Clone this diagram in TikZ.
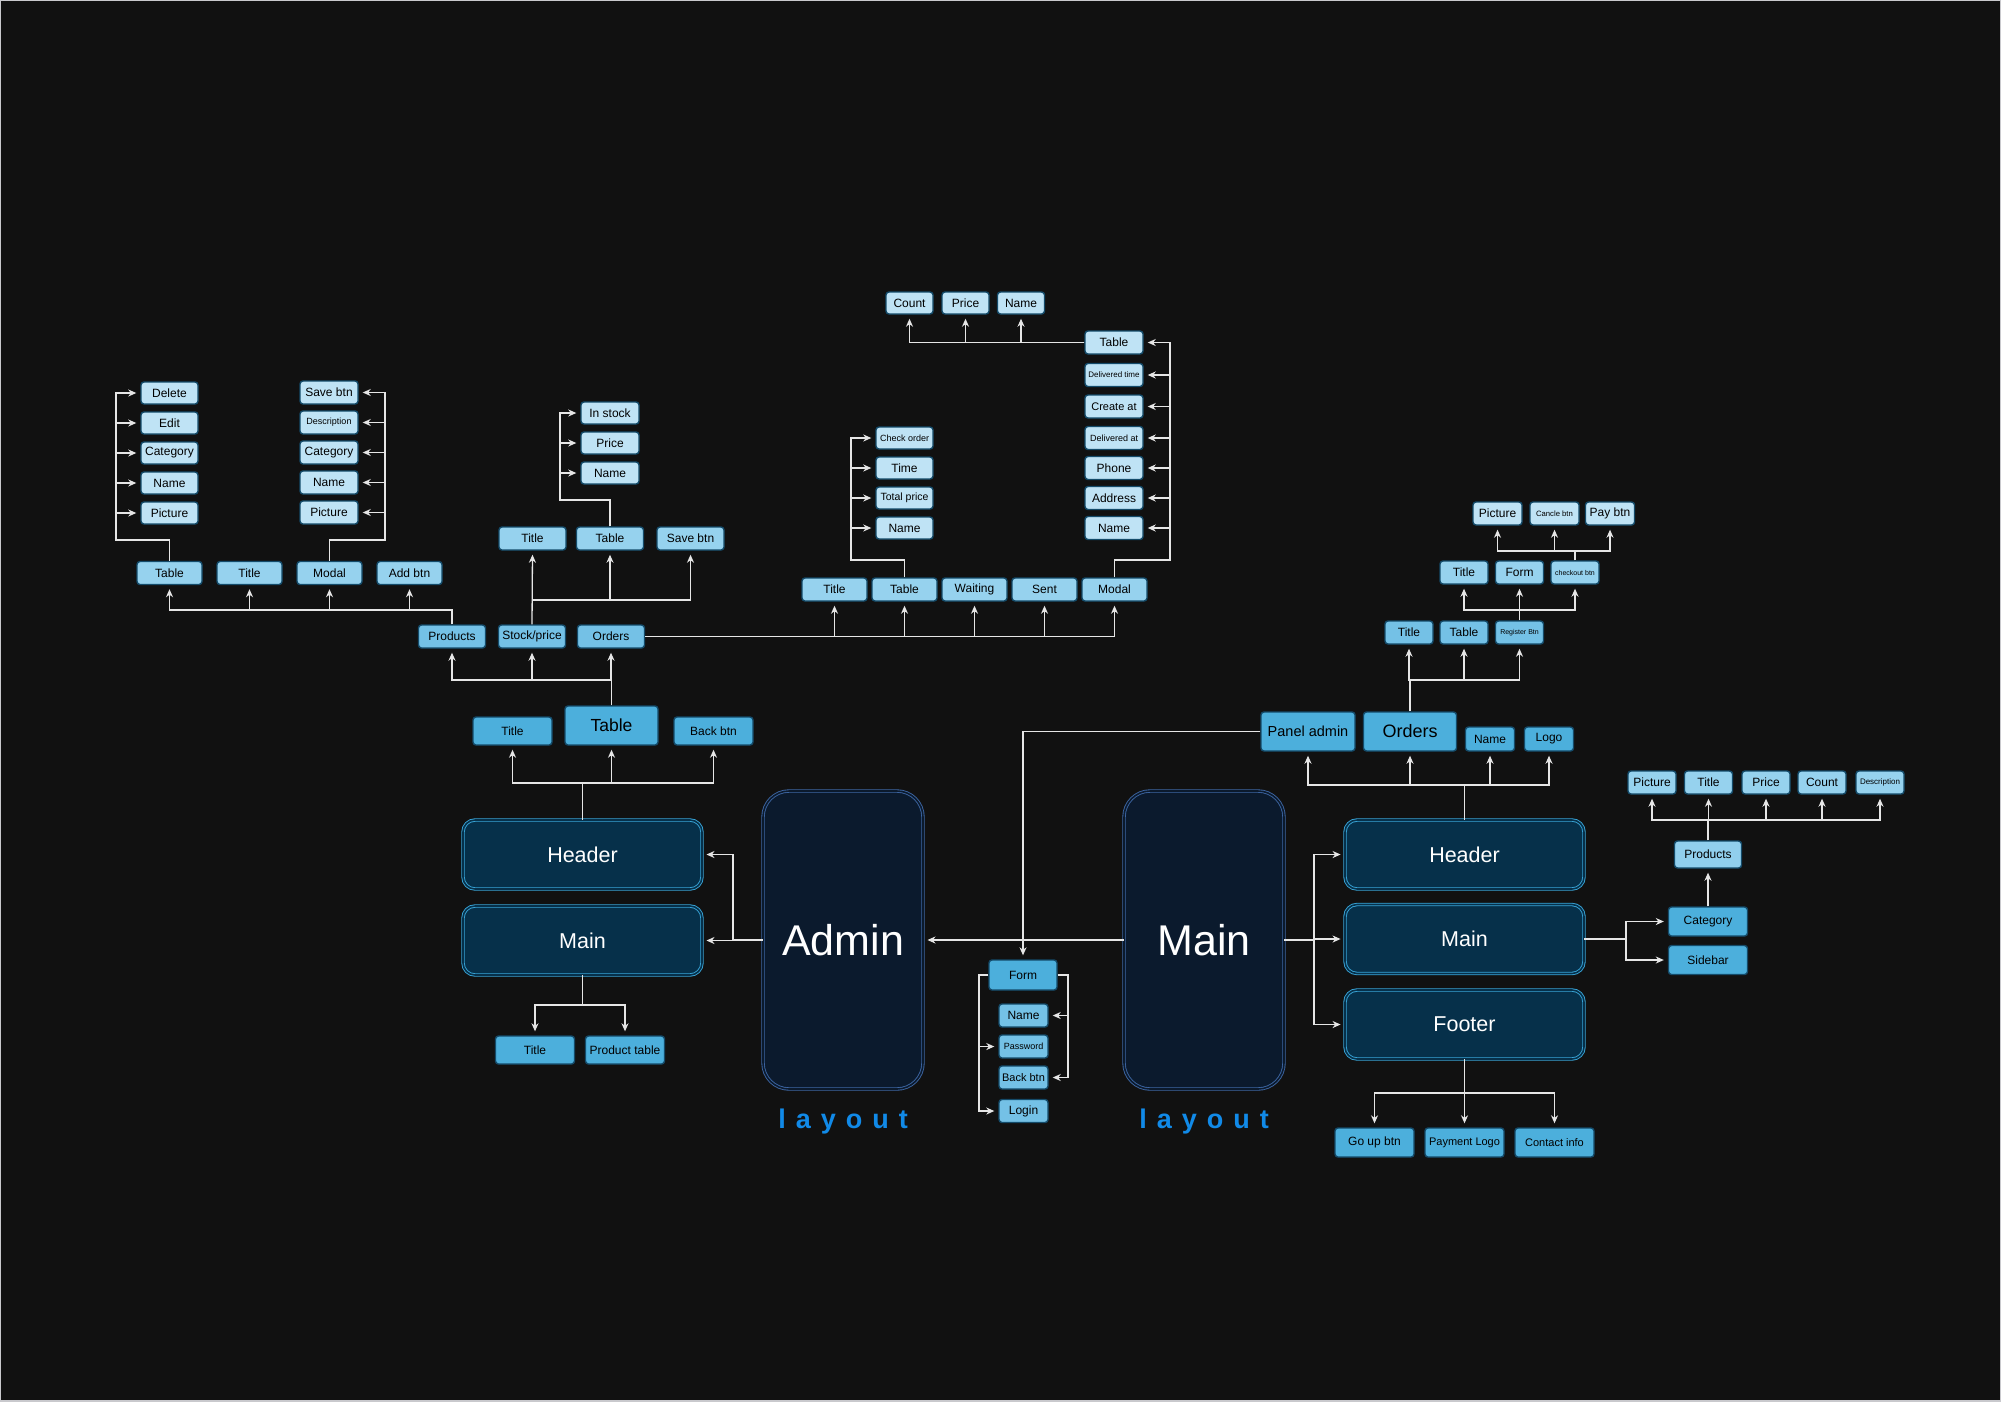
\documentclass[tikz,border=0pt]{standalone}
\usepackage{fontspec}
\setmainfont{Liberation Sans}
\usepackage{tikz}
\usetikzlibrary{arrows.meta, positioning}

\newcommand{\fsz}[1]{\fontsize{#1}{#1}\selectfont}

\definecolor{bgdark}{HTML}{111111}
\definecolor{frameline}{HTML}{C9C9CD}
\definecolor{leafblue}{HTML}{BFE3F5}
\definecolor{midblue}{HTML}{96D2EE}
\definecolor{lvlblue}{HTML}{74C1E6}
\definecolor{topblue}{HTML}{4CAFDC}
\definecolor{boxline}{HTML}{144B6A}
\definecolor{secfill}{HTML}{06304A}
\definecolor{secline}{HTML}{38A4D7}
\definecolor{pagefill}{HTML}{0B1A2D}
\definecolor{pageline}{HTML}{3D66A3}
\definecolor{wire}{HTML}{E6E6E6}
\definecolor{layblue}{HTML}{118AE8}

\tikzstyle{leafbox} = [rectangle, rounded corners=3pt, minimum width=57pt, minimum height=22pt, inner sep=0pt, text centered, draw=boxline, line width=1.4pt, fill=leafblue, text=black, font=\fsz{12}]
\tikzstyle{midbox} = [leafbox, fill=midblue, minimum width=65pt, minimum height=23pt]
\tikzstyle{lvlbox} = [leafbox, fill=lvlblue, minimum width=67pt, minimum height=23pt]
\tikzstyle{topbox} = [leafbox, fill=topblue, minimum width=79pt, minimum height=28pt]
\tikzstyle{sectionbox} = [rectangle, rounded corners=12pt, minimum width=239pt, minimum height=69pt, inner sep=0pt, draw=secline, double=secfill, double distance=1.6pt, line width=0.9pt, fill=secfill, text=white, font=\fsz{21.5}]
\tikzstyle{pagebox} = [rectangle, rounded corners=26pt, minimum width=160pt, minimum height=298pt, inner sep=0pt, draw=pageline, double=pagefill, double distance=1.6pt, line width=0.9pt, fill=pagefill, text=white, font=\fsz{43}]
\tikzstyle{layouttext} = [text=layblue, font=\bfseries\fsz{27}, inner sep=0pt]
\tikzstyle{arrow} = [line width=1.3pt, draw=wire, ->, >={Stealth[length=8pt,width=7pt,inset=2.5pt]}, shorten >=4pt]

\newcommand{\spacedlayout}{l\kern10pt a\kern10pt y\kern10pt o\kern10pt u\kern10pt t}

\begin{document}
\begin{tikzpicture}[x=1pt, y=-1pt]

    \useasboundingbox (0,0) rectangle (2001,1401);
    \fill [bgdark] (0,0) rectangle (2001,1401);
    \draw [frameline, line width=2pt] (0,0) rectangle (2001,1401);

    % admin layout
    \node (admin) [pagebox] at (843,940) {Admin};
    \node (alayout) [layouttext] at (843,1121) {\spacedlayout};
    \node (lheader) [sectionbox] at (582.5,854.5) {Header};
    \node (lmain) [sectionbox] at (582.5,940.5) {Main};
    \node (htitle) [topbox] at (512.5,731) {Title};
    \node (htable) [topbox, minimum width=93pt, minimum height=39pt, font=\fsz{17.5}] at (611.5,725.5) {Table};
    \node (hback) [topbox] at (713.5,731) {Back btn};
    \node (mtitle) [topbox] at (535,1050) {Title};
    \node (mprod) [topbox] at (625,1050) {Product table};

    \node (products) [lvlbox] at (452,636.5) {Products};
    \node (stock) [lvlbox] at (532,636.5) {Stock/price};
    \node (orders) [lvlbox] at (611,636.5) {Orders};

    \node (ptable) [midbox] at (169.5,573) {Table};
    \node (ptitle) [midbox] at (249.5,573) {Title};
    \node (pmodal) [midbox] at (329.5,573) {Modal};
    \node (padd) [midbox] at (409.5,573) {Add btn};

    \node (t1) [leafbox] at (169.5,393) {Delete};
    \node (t2) [leafbox, below of=t1, node distance=30pt] {Edit};
    \node (t3) [leafbox, below of=t2, node distance=30pt] {Category};
    \node (t4) [leafbox, below of=t3, node distance=30pt] {Name};
    \node (t5) [leafbox, below of=t4, node distance=30pt] {Picture};

    \node (m1) [leafbox, minimum width=58pt, minimum height=23pt] at (329,392.5) {Save btn};
    \node (m2) [leafbox, minimum width=58pt, minimum height=23pt, font=\fsz{9}, below of=m1, node distance=30pt] {Description};
    \node (m3) [leafbox, minimum width=58pt, minimum height=23pt, below of=m2, node distance=30pt] {Category};
    \node (m4) [leafbox, minimum width=58pt, minimum height=23pt, below of=m3, node distance=30pt] {Name};
    \node (m5) [leafbox, minimum width=58pt, minimum height=23pt, below of=m4, node distance=30pt] {Picture};

    \node (stitle) [midbox, minimum width=67pt] at (532.5,538.5) {Title};
    \node (stable) [midbox, minimum width=67pt] at (610,538.5) {Table};
    \node (ssave) [midbox, minimum width=67pt] at (690.5,538.5) {Save btn};
    \node (s1) [leafbox, minimum width=58pt] at (610,413) {In stock};
    \node (s2) [leafbox, minimum width=58pt, below of=s1, node distance=30pt] {Price};
    \node (s3) [leafbox, minimum width=58pt, below of=s2, node distance=30pt] {Name};

    \node (otitle) [midbox] at (834.5,589.5) {Title};
    \node (otable) [midbox] at (904.5,589.5) {Table};
    \node (owait) [midbox] at (974.5,589.5) {Waiting};
    \node (osent) [midbox] at (1044.5,589.5) {Sent};
    \node (omodal) [midbox] at (1114.5,589.5) {Modal};

    \node (c1) [leafbox, font=\fsz{9}] at (904.5,438) {Check order};
    \node (c2) [leafbox, below of=c1, node distance=30pt] {Time};
    \node (c3) [leafbox, font=\fsz{10.5}, below of=c2, node distance=30pt] {Total price};
    \node (c4) [leafbox, below of=c3, node distance=30pt] {Name};

    \node (d0) [leafbox, minimum width=58pt, minimum height=23pt] at (1114,342.5) {Table};
    \node (d1) [leafbox, minimum width=58pt, minimum height=23pt, font=\fsz{8}] at (1114,375) {Delivered time};
    \node (d2) [leafbox, minimum width=58pt, minimum height=23pt, font=\fsz{11}] at (1114,406.5) {Create at};
    \node (d3) [leafbox, minimum width=58pt, minimum height=23pt, font=\fsz{9}] at (1114,438) {Delivered at};
    \node (d4) [leafbox, minimum width=58pt, minimum height=23pt, below of=d3, node distance=30pt] {Phone};
    \node (d5) [leafbox, minimum width=58pt, minimum height=23pt, below of=d4, node distance=30pt] {Address};
    \node (d6) [leafbox, minimum width=58pt, minimum height=23pt, below of=d5, node distance=30pt] {Name};

    \node (e1) [leafbox, minimum width=47pt] at (909.5,303) {Count};
    \node (e2) [leafbox, minimum width=47pt] at (965.5,303) {Price};
    \node (e3) [leafbox, minimum width=47pt] at (1021,303) {Name};

    % login form
    \node (form) [topbox, minimum width=68pt, minimum height=30pt] at (1023,975) {Form};
    \node (f1) [lvlbox, minimum width=49pt] at (1023.5,1015.5) {Name};
    \node (f2) [lvlbox, minimum width=49pt, font=\fsz{9}] at (1023.5,1046.5) {Password};
    \node (f3) [lvlbox, minimum width=49pt, font=\fsz{11}] at (1023.5,1077.5) {Back btn};
    \node (f4) [lvlbox, minimum width=49pt] at (1023.5,1111) {Login};

    % main layout
    \node (mainpage) [pagebox] at (1204,940) {Main};
    \node (mlayout) [layouttext] at (1204,1121) {\spacedlayout};
    \node (rheader) [sectionbox] at (1464.5,854.5) {Header};
    \node (rmain) [sectionbox] at (1464.5,939) {Main};
    \node (rfooter) [sectionbox] at (1464.5,1024.5) {Footer};

    \node (panel) [topbox, minimum width=94pt, minimum height=39pt, font=\fsz{14.5}] at (1308,731.5) {Panel admin};
    \node (rorders) [topbox, minimum width=93pt, minimum height=39pt, font=\fsz{18}] at (1410,731.5) {Orders};
    \node (rname) [topbox, minimum width=49pt, minimum height=24pt] at (1490,739) {Name};
    \node (rlogo) [topbox, minimum width=49pt, minimum height=24pt] at (1549,739) {Logo};

    \node (otitle2) [lvlbox, minimum width=48pt] at (1409,632.5) {Title};
    \node (otable2) [lvlbox, minimum width=48pt] at (1464,632.5) {Table};
    \node (oreg) [lvlbox, minimum width=48pt, font=\fsz{7}] at (1519.5,632.5) {Register Btn};
    \node (ftitle) [midbox, minimum width=48pt] at (1464,572.5) {Title};
    \node (fform) [midbox, minimum width=48pt] at (1519.5,572.5) {Form};
    \node (fcheck) [midbox, minimum width=48pt, font=\fsz{7}] at (1575,572.5) {checkout btn};
    \node (k1) [leafbox, minimum width=49pt, minimum height=23pt] at (1497.5,513.5) {Picture};
    \node (k2) [leafbox, minimum width=49pt, minimum height=23pt, font=\fsz{7.7}] at (1554.5,513.5) {Cancle btn};
    \node (k3) [leafbox, minimum width=49pt, minimum height=23pt] at (1610,513.5) {Pay btn};

    \node (cat) [topbox, minimum height=29pt] at (1708,921.5) {Category};
    \node (side) [topbox, minimum height=29pt] at (1708,960) {Sidebar};
    \node (rprod) [midbox, minimum width=67pt, minimum height=27pt, fill=midblue!85!lvlblue] at (1708,854.5) {Products};
    \node (q1) [midbox, minimum width=48pt] at (1652,782.5) {Picture};
    \node (q2) [midbox, minimum width=48pt] at (1708.5,782.5) {Title};
    \node (q3) [midbox, minimum width=48pt] at (1766,782.5) {Price};
    \node (q4) [midbox, minimum width=48pt] at (1822,782.5) {Count};
    \node (q5) [midbox, minimum width=48pt, font=\fsz{8}] at (1880,782.5) {Description};

    \node (g1) [topbox, minimum height=29pt] at (1374.5,1142.5) {Go up btn};
    \node (g2) [topbox, minimum height=29pt, font=\fsz{11}] at (1464.5,1142.5) {Payment Logo};
    \node (g3) [topbox, minimum height=29pt, font=\fsz{11}] at (1554.5,1142.5) {Contact info};

    % junctions
    \coordinate (aj) at (733,940);
    \coordinate (lhj) at (582.5,783);
    \coordinate (tj) at (611.5,680);
    \coordinate (pj) at (452,610);
    \coordinate (tl) at (116,540);
    \coordinate (mr) at (385,540);
    \coordinate (sj) at (532,600);
    \coordinate (sl) at (560,500);
    \coordinate (cl) at (851,560);
    \coordinate (dr) at (1170,560);
    \coordinate (lmj) at (582.5,1005);
    \coordinate (fl) at (979,975);
    \coordinate (fr) at (1068,975);
    \coordinate (mj) at (1314,940);
    \coordinate (rhj) at (1464.5,785);
    \coordinate (roj) at (1410,680);
    \coordinate (rgj) at (1519.5,610);
    \coordinate (ckj) at (1575,551);
    \coordinate (rmj) at (1626,939);
    \coordinate (qj) at (1708,820);
    \coordinate (fj) at (1464.5,1093);

    % admin side
    \draw [arrow] (admin.west) -- (aj) |- (lheader.east);
    \draw [arrow] (aj) |- (lmain.east);
    \draw [arrow] (lheader.north) -- (lhj) -| (htitle.south);
    \draw [arrow] (lhj) -| (htable.south);
    \draw [arrow] (lhj) -| (hback.south);
    \draw [arrow] (lmain.south) -- (lmj) -| (mtitle.north);
    \draw [arrow] (lmj) -| (mprod.north);
    \draw [arrow] (htable.north) -- (tj) -| (products.south);
    \draw [arrow] (tj) -| (stock.south);
    \draw [arrow] (tj) -| (orders.south);

    \draw [arrow] (products.north) -- (pj) -| (ptable.south);
    \draw [arrow] (pj) -| (ptitle.south);
    \draw [arrow] (pj) -| (pmodal.south);
    \draw [arrow] (pj) -| (padd.south);
    \draw [arrow] (ptable.north) |- (tl) |- (t1.west);
    \draw [arrow] (tl) |- (t2.west);
    \draw [arrow] (tl) |- (t3.west);
    \draw [arrow] (tl) |- (t4.west);
    \draw [arrow] (tl) |- (t5.west);
    \draw [arrow] (pmodal.north) |- (mr) |- (m1.east);
    \draw [arrow] (mr) |- (m2.east);
    \draw [arrow] (mr) |- (m3.east);
    \draw [arrow] (mr) |- (m4.east);
    \draw [arrow] (mr) |- (m5.east);

    \draw [arrow] (stock.north) -- (stitle.south);
    \draw [arrow] (sj) -| (stable.south);
    \draw [arrow] (sj) -| (ssave.south);
    \draw [arrow] (stable.north) |- (sl) |- (s1.west);
    \draw [arrow] (sl) |- (s2.west);
    \draw [arrow] (sl) |- (s3.west);

    \draw [arrow] (orders.east) -| (otitle.south);
    \draw [arrow] (orders.east) -| (otable.south);
    \draw [arrow] (orders.east) -| (owait.south);
    \draw [arrow] (orders.east) -| (osent.south);
    \draw [arrow] (orders.east) -| (omodal.south);
    \draw [arrow] (otable.north) |- (cl) |- (c1.west);
    \draw [arrow] (cl) |- (c2.west);
    \draw [arrow] (cl) |- (c3.west);
    \draw [arrow] (cl) |- (c4.west);
    \draw [arrow] (omodal.north) |- (dr) |- (d0.east);
    \draw [arrow] (dr) |- (d1.east);
    \draw [arrow] (dr) |- (d2.east);
    \draw [arrow] (dr) |- (d3.east);
    \draw [arrow] (dr) |- (d4.east);
    \draw [arrow] (dr) |- (d5.east);
    \draw [arrow] (dr) |- (d6.east);
    \draw [arrow] (d0.west) -| (e1.south);
    \draw [arrow] (d0.west) -| (e2.south);
    \draw [arrow] (d0.west) -| (e3.south);

    % centre
    \draw [arrow] (mainpage.west) -- (admin.east);
    \draw [arrow] (panel.west) -| (form.north);
    \draw [arrow] (form.west) -- (fl) |- (f2.west);
    \draw [arrow] (fl) |- (f4.west);
    \draw [arrow] (form.east) -- (fr) |- (f1.east);
    \draw [arrow] (fr) |- (f3.east);

    % main side
    \draw [arrow] (mainpage.east) -- (mj) |- (rheader.west);
    \draw [arrow] (mj) |- (rmain.west);
    \draw [arrow] (mj) |- (rfooter.west);
    \draw [arrow] (rheader.north) -- (rhj) -| (panel.south);
    \draw [arrow] (rhj) -| (rorders.south);
    \draw [arrow] (rhj) -| (rname.south);
    \draw [arrow] (rhj) -| (rlogo.south);
    \draw [arrow] (rorders.north) -- (roj) -| (otitle2.south);
    \draw [arrow] (roj) -| (otable2.south);
    \draw [arrow] (roj) -| (oreg.south);
    \draw [arrow] (oreg.north) -- (fform.south);
    \draw [arrow] (rgj) -| (ftitle.south);
    \draw [arrow] (rgj) -| (fcheck.south);
    \draw [arrow] (fcheck.north) -- (ckj) -| (k1.south);
    \draw [arrow] (ckj) -| (k2.south);
    \draw [arrow] (ckj) -| (k3.south);
    \draw [arrow] (rmain.east) -- (rmj) |- (cat.west);
    \draw [arrow] (rmj) |- (side.west);
    \draw [arrow] (cat.north) -- (rprod.south);
    \draw [arrow] (rprod.north) -- (qj) -| (q1.south);
    \draw [arrow] (qj) -| (q2.south);
    \draw [arrow] (qj) -| (q3.south);
    \draw [arrow] (qj) -| (q4.south);
    \draw [arrow] (qj) -| (q5.south);
    \draw [arrow] (rfooter.south) -- (fj) -| (g1.north);
    \draw [arrow] (fj) -| (g2.north);
    \draw [arrow] (fj) -| (g3.north);

\end{tikzpicture}
\end{document}
